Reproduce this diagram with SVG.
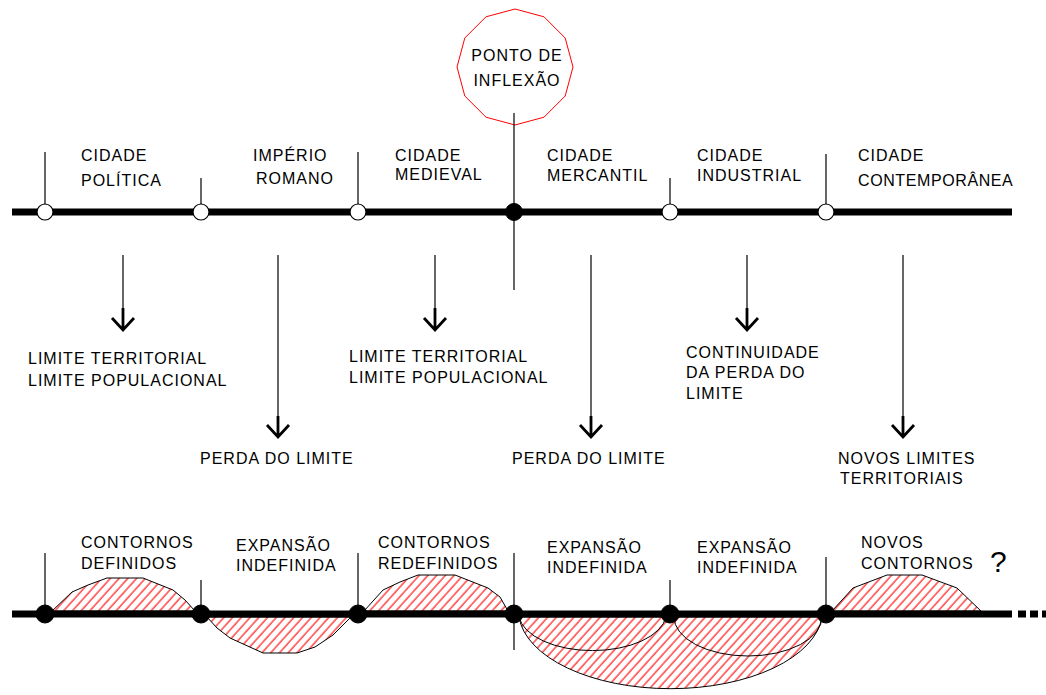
<svg xmlns="http://www.w3.org/2000/svg" width="1046" height="695" viewBox="0 0 1046 695">
<style>
text{font-family:"Liberation Sans",Arial,sans-serif;font-size:16px;letter-spacing:1px;fill:#000}
.axis{stroke:#000;stroke-width:7;fill:none}
.tick{stroke:#000;stroke-width:1.2;fill:none}
.hollow{fill:#fff;stroke:#000;stroke-width:1.2}
.solid{fill:#000;stroke:#000;stroke-width:1}
.shaft{stroke:#000;stroke-width:1.2;fill:none}
.head{stroke:#000;stroke-width:2.8;fill:none;stroke-linejoin:miter}
.hatch{fill:url(#h);stroke:#000;stroke-width:1}
.arc{fill:none;stroke:#000;stroke-width:1}
</style>
<defs>
<pattern id="h" patternUnits="userSpaceOnUse" width="6.5" height="10" patternTransform="rotate(42)">
<line x1="1" y1="0" x2="1" y2="10" stroke="#ff0000" stroke-width="1.1"/>
</pattern>
</defs>

<g id="inflexao">
<polygon points="515,9 544,16.8 565.2,38 573,67 565.2,96 544,117.2 515,125 486,117.2 464.8,96 457,67 464.8,38 486,16.8" fill="#fff" stroke="#ff0000" stroke-width="1"/>
<text x="517" y="61" text-anchor="middle">PONTO DE</text>
<text x="517" y="86" text-anchor="middle">INFLEXÃO</text>
</g>

<g id="connectors">
<line class="axis" x1="12" y1="212" x2="1012" y2="212"/>
<line class="tick" x1="45" y1="152" x2="45" y2="212"/>
<line class="tick" x1="201" y1="178" x2="201" y2="212"/>
<line class="tick" x1="358" y1="152" x2="358" y2="212"/>
<line class="tick" x1="514" y1="113" x2="514" y2="290"/>
<line class="tick" x1="670" y1="178" x2="670" y2="212"/>
<line class="tick" x1="826" y1="154" x2="826" y2="212"/>

<line class="shaft" x1="123" y1="255" x2="123" y2="310"/>
<path class="head" d="M123,308 V329 M112,318 L123,330 L134,318"/>
<line class="shaft" x1="278" y1="255" x2="278" y2="418"/>
<path class="head" d="M278,416 V436 M267,425 L278,437 L289,425"/>
<line class="shaft" x1="435" y1="255" x2="435" y2="310"/>
<path class="head" d="M435,308 V329 M424,318 L435,330 L446,318"/>
<line class="shaft" x1="591" y1="255" x2="591" y2="418"/>
<path class="head" d="M591,416 V436 M580,425 L591,437 L602,425"/>
<line class="shaft" x1="747" y1="255" x2="747" y2="310"/>
<path class="head" d="M747,308 V329 M736,318 L747,330 L758,318"/>
<line class="shaft" x1="903" y1="255" x2="903" y2="418"/>
<path class="head" d="M903,416 V436 M892,425 L903,437 L914,425"/>

<path class="hatch" d="M52,611 L72,592 L88,585 L107,578 L143,578 L173,590 L185,600 L195,611 Z"/>
<path class="hatch" d="M207,617 L217,628 L230,638 L263,653 L297,653 L315,647 L333,635 L351,617 Z"/>
<path class="hatch" d="M364,611 L383,590 L400,582 L418,575 L455,575 L488,588 L500,597 L508,611 Z"/>
<path class="hatch" d="M519,617 A152,78 0 0 0 822,617 Z"/>
<path class="arc" d="M519,617 A74,38 0 0 0 666,617"/>
<path class="arc" d="M674,617 A74,39 0 0 0 822,617"/>
<path class="hatch" d="M832,611 L853,588 L887,575 L922,575 L957,588 L981,611 Z"/>

<line class="axis" x1="12" y1="614" x2="1012" y2="614"/>
<line x1="1018" y1="614" x2="1046" y2="614" stroke="#000" stroke-width="7" stroke-dasharray="8,4"/>
<line class="tick" x1="45" y1="553" x2="45" y2="614"/>
<line class="tick" x1="201" y1="580" x2="201" y2="614"/>
<line class="tick" x1="358" y1="553" x2="358" y2="614"/>
<line class="tick" x1="514" y1="553" x2="514" y2="650"/>
<line class="tick" x1="670" y1="580" x2="670" y2="614"/>
<line class="tick" x1="826" y1="557" x2="826" y2="614"/>
</g>

<g id="n1"><circle class="hollow" cx="45" cy="212" r="8"/><text x="81" y="161">CIDADE</text><text x="81" y="186">POLÍTICA</text></g>
<g id="n2"><circle class="hollow" cx="201" cy="212" r="8"/><text x="253" y="161">IMPÉRIO</text><text x="256" y="184">ROMANO</text></g>
<g id="n3"><circle class="hollow" cx="358" cy="212" r="8"/><text x="395" y="161">CIDADE</text><text x="395" y="180">MEDIEVAL</text></g>
<g id="n4"><circle class="solid" cx="514" cy="212" r="8.5"/><text x="547" y="161">CIDADE</text><text x="547" y="181">MERCANTIL</text></g>
<g id="n5"><circle class="hollow" cx="670" cy="212" r="8"/><text x="697" y="161">CIDADE</text><text x="697" y="181">INDUSTRIAL</text></g>
<g id="n6"><circle class="hollow" cx="826" cy="212" r="8"/><text x="858" y="161">CIDADE</text><text x="858" y="186" style="letter-spacing:0.6px">CONTEMPORÂNEA</text></g>

<g id="r1"><text x="28" y="364">LIMITE TERRITORIAL</text><text x="28" y="386">LIMITE POPULACIONAL</text></g>
<g id="r2"><text x="200" y="464">PERDA DO LIMITE</text></g>
<g id="r3"><text x="349" y="362">LIMITE TERRITORIAL</text><text x="349" y="383">LIMITE POPULACIONAL</text></g>
<g id="r4"><text x="512" y="464">PERDA DO LIMITE</text></g>
<g id="r5"><text x="686" y="358">CONTINUIDADE</text><text x="686" y="378">DA PERDA DO</text><text x="686" y="399">LIMITE</text></g>
<g id="r6"><text x="838" y="464">NOVOS LIMITES</text><text x="840" y="484">TERRITORIAIS</text></g>

<g id="b1"><circle class="solid" cx="45" cy="614" r="9"/><text x="81" y="548">CONTORNOS</text><text x="81" y="569">DEFINIDOS</text></g>
<g id="b2"><circle class="solid" cx="201" cy="614" r="9"/><text x="236" y="551">EXPANSÃO</text><text x="236" y="571">INDEFINIDA</text></g>
<g id="b3"><circle class="solid" cx="358" cy="614" r="9"/><text x="378" y="548">CONTORNOS</text><text x="378" y="569">REDEFINIDOS</text></g>
<g id="b4"><circle class="solid" cx="514" cy="614" r="9"/><text x="547" y="553">EXPANSÃO</text><text x="547" y="573">INDEFINIDA</text></g>
<g id="b5"><circle class="solid" cx="670" cy="614" r="9"/><text x="697" y="553">EXPANSÃO</text><text x="697" y="573">INDEFINIDA</text></g>
<g id="b6"><circle class="solid" cx="826" cy="614" r="9"/><text x="861" y="548">NOVOS</text><text x="861" y="569">CONTORNOS</text></g>
<g id="q"><text x="990" y="572" style="font-size:30px;letter-spacing:0">?</text></g>
</svg>
